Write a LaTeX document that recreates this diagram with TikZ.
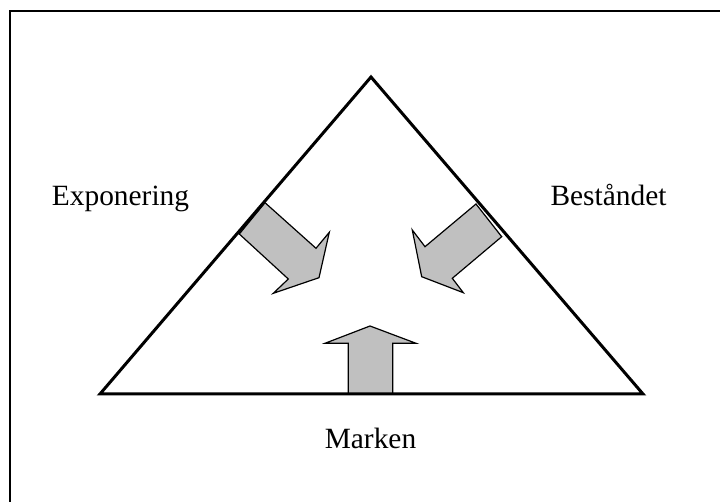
\documentclass[tikz,border=0pt]{standalone}
\usepackage{fontspec}
\setmainfont{Liberation Serif}
\tikzset{
  fatarrow/.style={draw=black, fill=arrowgray, line width=0.6pt, line join=miter},
  edge/.style={line width=1.5pt, line join=miter},
  frameline/.style={line width=1pt},
  lbl/.style={font=\fontsize{14.7}{17}\selectfont, inner sep=0pt, anchor=base}
}
\definecolor{arrowgray}{HTML}{C0C0C0}
\begin{document}
\begin{tikzpicture}[x=0.5pt, y=-0.5pt]
\useasboundingbox (0,0) rectangle (720,502);
\fill[white] (0,0) rectangle (720,502);
% frame (cropped at right and bottom)
\draw[frameline] (10,502) -- (10,11) -- (720,11);
% arrows
\draw[fatarrow] (265,202.7) -- (316,248.3) -- (329.3,232.3) -- (319,277.7) -- (273.3,293.3) -- (288.3,279) -- (239.3,234) -- cycle;
\draw[fatarrow] (476,204) -- (425,246.7) -- (412.3,230) -- (421.7,276.7) -- (463.3,292.7) -- (452.3,278.3) -- (501.7,236.7) -- cycle;
\draw[fatarrow] (348.3,394) -- (348.3,343.3) -- (325,343.3) -- (370,326) -- (416,343.3) -- (392.7,343.3) -- (392.7,394) -- cycle;
% triangle
\coordinate (apex) at (371,77);
\coordinate (bl) at (100,394);
\coordinate (br) at (643,394);
\draw[edge] (apex) -- (br) -- (bl) -- cycle;
% labels
\node[lbl] (expo) at (120.5,206) {Exponering};
\node[lbl] (best) at (608.5,206) {Beståndet};
\node[lbl] (mark) at (370.5,449) {Marken};
\end{tikzpicture}
\end{document}
